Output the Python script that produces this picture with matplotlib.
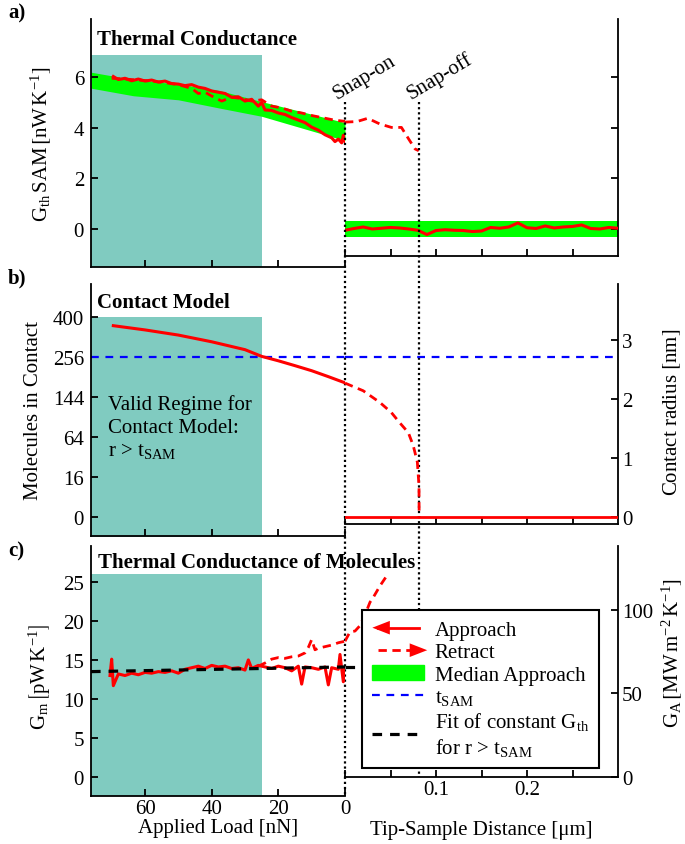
import numpy as np
import matplotlib
matplotlib.use('Agg')
import matplotlib.pyplot as plt
from matplotlib.lines import Line2D
from matplotlib.patches import Patch, FancyArrowPatch
from matplotlib.legend_handler import HandlerBase
from matplotlib.transforms import blended_transform_factory

plt.rcParams.update({
    'font.family': 'Liberation Serif',
    'font.size': 15,
    'mathtext.fontset': 'custom',
    'mathtext.rm': 'Liberation Serif',
    'mathtext.it': 'Liberation Serif:italic',
    'mathtext.bf': 'Liberation Serif:bold',
    'mathtext.fallback': 'stix',
    'axes.linewidth': 1.3,
    'xtick.direction': 'in', 'ytick.direction': 'in',
    'xtick.major.size': 5, 'ytick.major.size': 5,
    'xtick.major.width': 1.3, 'ytick.major.width': 1.3,
})

RED, GREEN, BLUE, TEAL = '#ff0000', '#00ff00', '#0000ff', '#80cbc0'

# ---- data ----
LOAD_MAX = 76.2          # nN, left edge of load axes
VALID_LOAD = 25.0        # r > t_SAM for loads above this
SNAP_OFF = 0.081         # um
T_SAM = 2.71             # nm
R_TO_SQRTN = 5.9         # sqrt(molecules) per nm of contact radius
GA_PER_GM = 4.67         # MW m^-2 K^-1 per pW K^-1

# a) thermal conductance, median approach band
band_load = [76.2, 63.5, 50, 37.5, 25, 12, 0]
band_lo = [5.56, 5.26, 5.10, 4.77, 4.45, 3.95, 3.49]
band_hi = [6.19, 5.90, 5.72, 5.46, 5.03, 4.60, 4.20]
band_dist_lo, band_dist_hi = -0.3, 0.3

# a) approach vs load
appr_load = [69.5, 68, 66, 64, 62, 60, 58, 56, 54, 52, 50, 48, 46, 44, 42, 40, 38, 36,
             34, 32, 30, 28, 26, 25, 24, 22, 20, 18, 16, 14, 12, 10, 8, 6, 4, 3, 2, 1, 0.5, 0]
appr_gth = [6.02, 5.90, 5.95, 5.85, 5.92, 5.84, 5.88, 5.80, 5.84, 5.74, 5.72, 5.66, 5.70,
            5.60, 5.55, 5.45, 5.40, 5.35, 5.20, 5.22, 5.05, 5.12, 4.85, 5.00, 4.70, 4.68,
            4.58, 4.52, 4.40, 4.30, 4.20, 4.02, 3.90, 3.72, 3.60, 3.45, 3.55, 3.40, 3.70, 3.45]
# a) retract vs load
retr_load = [70, 66, 62, 58, 54, 50, 46, 44, 42, 40, 37, 34, 31, 28, 25, 22, 19, 16, 13,
             10, 7, 4, 2, 0]
retr_gth = [5.95, 5.92, 5.88, 5.84, 5.78, 5.70, 5.55, 5.35, 5.40, 5.25, 5.05, 5.20, 5.15,
            5.05, 5.10, 4.85, 4.78, 4.65, 4.58, 4.48, 4.40, 4.32, 4.28, 4.25]
# a) retract vs distance
retr_dist = [0, 0.013, 0.025, 0.038, 0.051, 0.062, 0.070, 0.077, 0.081]
retr_gth_d = [4.22, 4.24, 4.37, 4.15, 4.01, 4.01, 3.55, 3.16, 3.09]
# a) approach vs distance (out of contact)
appr_dist = [0.00, 0.01, 0.02, 0.03, 0.04, 0.05, 0.06, 0.07, 0.08, 0.09, 0.10, 0.11,
             0.12, 0.13, 0.14, 0.15, 0.16, 0.17, 0.18, 0.19, 0.20, 0.21, 0.22, 0.23,
             0.24, 0.25, 0.26, 0.27, 0.28, 0.29, 0.30]
appr_gth_d = [-0.05, 0.02, 0.08, 0.00, 0.03, 0.06, 0.04, 0.00, -0.05, -0.22, -0.06, -0.03,
              -0.05, -0.06, -0.10, -0.08, 0.06, 0.03, 0.08, 0.24, 0.05, 0.02, 0.12, 0.04,
              0.08, 0.10, 0.16, 0.02, 0.00, 0.06, 0.03]

# b) contact model
model_load = [69.5, 60, 50, 40, 30, 25, 20, 15, 10, 5, 0]
model_mol = [366, 350, 331, 307, 280, 258, 244, 229, 214, 197, 180]
model_dist = [0, 0.020, 0.0385, 0.051, 0.060, 0.0696, 0.075, 0.0795, 0.0813, 0.0815]
model_r = [2.27, 2.14, 1.94, 1.77, 1.60, 1.43, 1.21, 0.93, 0.53, 0.0]

# c) conductance per molecule
gm_load = [70.5, 70, 69.5, 68, 66, 64, 62, 60, 58, 56, 54, 52, 50, 48, 46, 44, 42, 40, 38,
           36, 34, 32, 30, 29, 28, 26, 24, 22, 20, 18, 16, 14, 13, 12, 10, 8, 6, 5, 4, 2,
           1.5, 1, 0.5, 0]
gm_appr = [13.0, 15.1, 11.7, 13.2, 13.0, 13.3, 13.1, 13.4, 13.3, 13.5, 13.4, 13.6, 13.3,
           13.8, 14.0, 14.2, 13.9, 14.3, 14.1, 14.2, 13.9, 14.0, 13.7, 15.0, 13.9, 14.3,
           14.1, 13.9, 14.2, 14.0, 13.6, 14.2, 11.9, 14.1, 14.0, 13.8, 14.1, 11.8, 14.0,
           13.8, 15.7, 13.9, 12.2, 14.0]
gm_retr_load = [26, 24, 22, 20, 18, 16, 14, 12, 11, 10, 9, 8, 6, 4, 2, 0]
gm_retr = [14.2, 14.6, 15.1, 15.3, 15.2, 15.4, 15.5, 15.9, 16.6, 17.6, 16.3, 16.5, 16.7,
           16.9, 17.2, 17.4]
gm_retr_dist = [0, 0.0055, 0.011, 0.0165, 0.022, 0.0275, 0.031, 0.0385, 0.046]
gm_retr_d = [17.4, 18.6, 18.7, 19.4, 20.8, 22.4, 23.0, 24.5, 25.8]
fit_load = [LOAD_MAX, 0]
fit_gm = [13.5, 14.1]
fit_dist = [0, SNAP_OFF]
fit_gm_d = [14.1, 14.1]

load_ticks = [60, 40, 20, 0]
dist_ticks = [0, 0.05, 0.1, 0.15, 0.2, 0.25]
dist_labels = ['', '', '0.1', '', '0.2', '']
mol_ticks = [0, 16, 64, 144, 256, 400]
ga_ticks = [0, 50, 100]

# ---- layout ----
fig = plt.figure(figsize=(6.85, 8.45), dpi=100)


def px_axes(x0, y0, x1, y1):
    return fig.add_axes([x0 / 685, 1 - y1 / 845, (x1 - x0) / 685, (y1 - y0) / 845])


aL = px_axes(91, 20, 345, 268)
aR = px_axes(345, 20, 618, 257)
bL = px_axes(91, 285, 345, 537)
bR = px_axes(345, 285, 618, 525)
cL = px_axes(91, 547, 345, 797)
cR = px_axes(345, 547, 618, 778)

for ax in (aL, bL, cL):
    ax.set_facecolor('none')
    ax.spines[['top', 'right']].set_visible(False)
    ax.set_xlim(LOAD_MAX, 0)
    ax.set_xticks(load_ticks)
    ax.tick_params(axis='y', pad=5)
    ax.tick_params(axis='x', pad=2)
for ax in (aR, bR, cR):
    ax.set_facecolor('none')
    ax.spines[['top', 'left']].set_visible(False)
    ax.yaxis.tick_right()
    ax.yaxis.set_label_position('right')
    ax.set_xlim(0, 0.3)
    ax.set_xticks(dist_ticks)
    ax.tick_params(axis='y', pad=3)
    ax.tick_params(axis='x', pad=2)
for ax in (aL, bL):
    ax.set_xticklabels([])
for ax in (aR, bR):
    ax.set_xticklabels([])
cR.set_xticklabels(dist_labels)

dashed = dict(dashes=(3, 2), lw=2, color=RED)

# a) thermal conductance
aL.set_ylim(-1.5, 8.29)
aR.set_ylim(-1.066, 8.29)
aL.set_yticks([0, 2, 4, 6])
aR.set_yticks([0, 2, 4, 6])
aR.set_yticklabels([])
aL.fill_between([LOAD_MAX, VALID_LOAD], -1.5, 6.87, color=TEAL, lw=0, zorder=0)
aL.fill_between(band_load, band_lo, band_hi, color=GREEN, lw=0, zorder=1)
aL.plot(appr_load, appr_gth, color=RED, lw=2.2, zorder=3)
aL.plot(retr_load, retr_gth, zorder=3, **dashed)
aR.fill_between([0, 0.3], band_dist_lo, band_dist_hi, color=GREEN, lw=0, zorder=1)
aR.plot(appr_dist, appr_gth_d, color=RED, lw=2.2, zorder=3)
aR.plot(retr_dist, retr_gth_d, zorder=3, **dashed)
aL.set_ylabel(r'$\mathrm{G_{th}\,SAM}\,\left[\mathrm{nW\,K^{-1}}\right]$', va='center')
aL.yaxis.set_label_coords(-0.2, 0.5)
aL.text(0.024, 0.9, 'Thermal Conductance', transform=aL.transAxes, fontweight='bold')

# snap-on / snap-off markers spanning all rows
fig_x = blended_transform_factory(aR.transData, fig.transFigure)
for x, y_end in ((0, 797), (SNAP_OFF, 778)):
    aR.add_line(Line2D([x, x], [1 - 103 / 845, 1 - y_end / 845], transform=fig_x,
                       color='black', lw=1.6, ls=(0, (1, 1.3)), clip_on=False, zorder=4))
aR.text(-0.009, 5.15, 'Snap-on', rotation=31, rotation_mode='anchor',
        ha='left', va='baseline')
aR.text(0.073, 5.15, 'Snap-off', rotation=31, rotation_mode='anchor',
        ha='left', va='baseline')

# b) contact model
bL.set_yscale('function', functions=(lambda n: np.sign(n) * np.sqrt(np.abs(n)),
                                     lambda s: np.sign(s) * s ** 2))
bL.set_ylim(-1.9 ** 2, 23.3 ** 2)
bL.set_yticks(mol_ticks)
bL.set_yticklabels([str(t) for t in mol_ticks])
bL.minorticks_off()
bR.set_ylim(-0.119, 3.95)
bR.set_yticks([0, 1, 2, 3])
n_tsam = (R_TO_SQRTN * T_SAM) ** 2
bL.fill_between([LOAD_MAX, VALID_LOAD], -10, 400, color=TEAL, lw=0, zorder=0)
bL.plot(model_load, model_mol, color=RED, lw=2.2, zorder=3)
bL.plot([LOAD_MAX, 0], [n_tsam, n_tsam], color=BLUE, lw=1.6, dashes=(3.5, 3), zorder=2)
bR.plot([0, 0.3], [T_SAM, T_SAM], color=BLUE, lw=1.6, dashes=(3.5, 3), zorder=2)
bR.plot(model_dist, model_r, zorder=3, **dashed)
bR.plot([0, 0.3], [0, 0], color=RED, lw=2, zorder=3)
bL.set_ylabel('Molecules in Contact', va='center')
bL.yaxis.set_label_coords(-0.226, 0.5)
bR.set_ylabel(r'Contact radius $\left[\mathrm{nm}\right]$', va='center', rotation=90)
bR.yaxis.set_label_coords(1.198, 0.47)
bL.text(0.024, 0.909, 'Contact Model', transform=bL.transAxes, fontweight='bold')
bL.text(0.067, 0.563, 'Valid Regime for\nContact Model:\n' + r'r > $\mathrm{t_{SAM}}$',
        transform=bL.transAxes, va='top', linespacing=1.25)

# c) conductance of molecules; right axis shows the same data per contact area
cL.set_ylim(-2.44, 29.6)
cR.set_ylim(0, 29.6 * GA_PER_GM)
cL.set_yticks([0, 5, 10, 15, 20, 25])
cR.set_yticks(ga_ticks)
cL.fill_between([LOAD_MAX, VALID_LOAD], -2.44, 26.0, color=TEAL, lw=0, zorder=0)
cL.plot(gm_load, gm_appr, color=RED, lw=2.2, zorder=3)
cL.plot(gm_retr_load, gm_retr, zorder=3, **dashed)
cL.plot(fit_load, fit_gm, color='black', lw=2.3, dashes=(3, 2.5), zorder=4)
cR.plot(gm_retr_dist, np.array(gm_retr_d) * GA_PER_GM, zorder=3, **dashed)
cR.plot(fit_dist, np.array(fit_gm_d) * GA_PER_GM, color='black', lw=2.3,
        dashes=(3, 2.5), zorder=4)
cL.set_ylabel(r'$\mathrm{G_m}\,\left[\mathrm{pW\,K^{-1}}\right]$', va='center')
cL.yaxis.set_label_coords(-0.2, 0.48)
cR.set_ylabel(r'$\mathrm{G_A}\,\left[\mathrm{MW\,m^{-2}\,K^{-1}}\right]$', va='center')
cR.yaxis.set_label_coords(1.198, 0.54)
cL.set_xlabel('Applied Load [nN]', labelpad=0)
cR.set_xlabel('Tip-Sample Distance [μm]', labelpad=15)
cL.text(0.028, 0.916, 'Thermal Conductance of Molecules', transform=cL.transAxes,
        fontweight='bold')


class ArrowLine(HandlerBase):
    def __init__(self, dash, to_left):
        super().__init__()
        self.dash = dash
        self.to_left = to_left

    def create_artists(self, legend, orig_handle, xdescent, ydescent, width, height,
                       fontsize, trans):
        y = height / 2 - ydescent
        x0, x1 = -xdescent, width - xdescent
        line = Line2D([x0 + 4, x1 - 4], [y, y], color=RED, lw=2, transform=trans)
        if self.dash:
            line.set_dashes((3, 2))
        if self.to_left:
            tail, tip = (x0 + 12, y), (x0, y)
        else:
            tail, tip = (x1 - 12, y), (x1 + 2, y)
        head = FancyArrowPatch(tail, tip, arrowstyle='-|>,head_length=0.9,head_width=0.35',
                               mutation_scale=14, color=RED, lw=0, shrinkA=0, shrinkB=0,
                               transform=trans)
        return [line, head]


h_appr = Line2D([], [], color=RED)
h_retr = Line2D([], [], color=RED)
h_band = Patch(color=GREEN)
h_tsam = Line2D([], [], color=BLUE, lw=1.6, dashes=(3.5, 3))
h_fit = Line2D([], [], color='black', lw=2.3, dashes=(3, 2.5))
leg = cR.legend([h_appr, h_retr, h_band, h_tsam, h_fit],
                ['Approach', 'Retract', 'Median Approach', r'$\mathrm{t_{SAM}}$',
                 'Fit of constant $\\mathrm{G_{th}}$\nfor r > $\\mathrm{t_{SAM}}$'],
                handler_map={h_appr: ArrowLine(False, True), h_retr: ArrowLine(True, False)},
                loc='upper left', bbox_to_anchor=(0.062, 0.723), fancybox=False,
                framealpha=1, edgecolor='black', borderpad=0.5, labelspacing=0.14,
                handlelength=2.5, handletextpad=0.5, borderaxespad=0)
leg.get_frame().set_linewidth(1.5)
leg.set_zorder(10)

for label, y in (('a)', 18), ('b)', 283), ('c)', 556)):
    fig.text(8 / 685, 1 - y / 845, label, fontweight='bold')

fig.savefig('out.png', dpi=100)
